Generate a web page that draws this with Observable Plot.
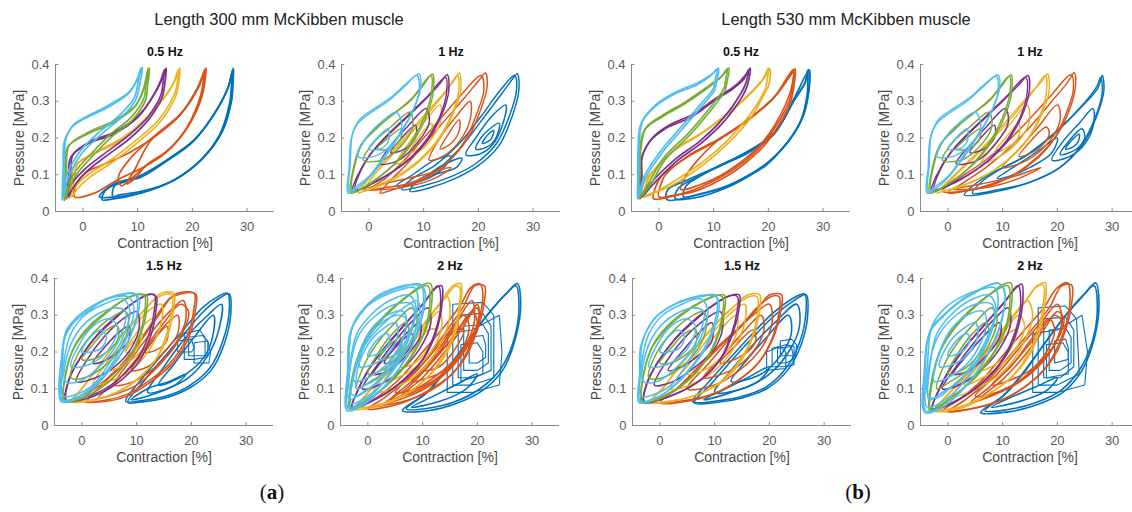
<!DOCTYPE html>
<html><head><meta charset="utf-8">
<script src="https://cdn.jsdelivr.net/npm/d3@7"></script>
<script src="https://cdn.jsdelivr.net/npm/@observablehq/plot@0.6"></script>
<style>
body{margin:0;background:#fff;overflow:hidden;}
#root{position:relative;width:1132px;height:512px;overflow:hidden;font-family:"Liberation Sans",Arial,sans-serif;}
.t{position:absolute;font-size:16.5px;color:#222;white-space:nowrap;transform:translateX(-50%);}
.p{position:absolute;width:269px;height:214px;}
.p svg{max-width:none !important;}
.lab{position:absolute;font-family:"Liberation Serif","DejaVu Serif",serif;font-size:21px;color:#111;transform:translateX(-50%);white-space:nowrap;}
</style></head><body><div id="root"></div>
<script>
// series: contraction offset levels (MATLAB default colour order)
const series = ["b","o","y","p","g","c"];
const colors = ["#0072BD","#D95319","#EDB120","#7E2F8E","#77AC30","#4DBEEE"];
const xTicks = [0,10,20,30];
const yTicks = [0,0.1,0.2,0.3,0.4];
const groupTitles = ["Length 300 mm McKibben muscle","Length 530 mm McKibben muscle"];
const freqTitles = ["0.5 Hz","1 Hz","1.5 Hz","2 Hz"];

// smooth loops: [series, [x(%), y(MPa), ...]]
const P300_05 = [
 ["b",[3.5,.032,4,.055,5.1,.068,10.6,.095,15.5,.14,20.3,.193,24,.265,26.5,.336,27.4,.386,27.3,.34,27.1,.3,25.2,.211,21.6,.14,16.7,.086,10.6,.05,5,.033]],
 ["b",[5.5,.04,5.8,.07,10.8,.1,15.8,.145,20.5,.198,24.2,.27,26.6,.34,27.3,.383,27.1,.335,26.8,.295,24.9,.207,21.3,.137,16.4,.083,10.5,.054,6.5,.045]],
 ["b",[3,.04,6,.078,10.4,.092,15.3,.137,20.1,.19,23.8,.262,26.4,.333,27.5,.39,27.4,.345,27.2,.305,25.4,.215,21.8,.143,16.9,.088,10.8,.052,6,.04]],
 ["o",[-1.5,.04,-1,.08,1,.11,3.3,.125,8.2,.158,13,.202,17.9,.265,21,.336,22,.37,22.4,.388,22,.34,21.6,.31,19.1,.229,15.5,.166,11.2,.122,6.3,.086,2.1,.05]],
 ["o",[7,.07,6.5,.095,9,.15,13.2,.207,18.1,.27,21.2,.34,22.2,.384,21.8,.335,21.3,.305,18.8,.224,15.2,.161,11,.118,8.5,.085]],
 ["o",[8,.075,9.5,.115,12.5,.195,17.7,.262,20.8,.333,22.5,.39,22.2,.345,21.8,.315,19.3,.233,15.8,.17,11.5,.125,9.5,.09]],
 ["y",[-2.5,.035,-2,.08,-1.6,.122,2.1,.157,6.9,.193,11.2,.247,14.9,.31,16.6,.35,17.4,.385,17.2,.345,16.7,.319,13.7,.247,9.4,.19,5.1,.14,.9,.1,-1.8,.06]],
 ["y",[-2,.04,-1.5,.09,-1,.13,2.5,.163,7.2,.2,11.5,.253,15.2,.318,17,.362,17.7,.39,17.4,.34,16.9,.312,13.9,.24,9.7,.184,5.4,.134,1.3,.094,-1.2,.058]],
 ["p",[-3,.035,-2.6,.1,-2.2,.148,.9,.184,5.7,.211,10,.256,13,.319,14.3,.36,14.9,.386,14.6,.345,14.3,.319,11.8,.256,8.2,.205,3.9,.157,.2,.113,-2.5,.065]],
 ["p",[-2.6,.04,-2.2,.105,-1.8,.155,1.3,.19,6,.218,10.3,.263,13.3,.325,14.6,.365,15.2,.39,14.9,.34,14.5,.312,12,.25,8.5,.198,4.2,.15,.5,.106,-2,.06]],
 ["g",[-3.4,.03,-3.2,.11,-2.8,.175,.9,.211,5.1,.238,9.4,.283,11,.33,11.9,.39,11.5,.345,11.2,.31,8.8,.256,5.1,.211,1.5,.157,-1.6,.104,-3,.055]],
 ["g",[-3.2,.035,-3,.115,-2.5,.18,1.2,.217,5.4,.245,9.7,.29,11.3,.34,12.2,.39,11.8,.34,11.5,.305,9.1,.25,5.4,.205,1.8,.151,-1.3,.098,-2.8,.05]],
 ["c",[-3.8,.03,-3.6,.12,-3.4,.19,-2,.23,-.4,.247,4.5,.283,8.2,.319,9.8,.355,10.6,.39,10,.345,9.4,.31,6.9,.265,3.3,.22,-.4,.166,-2.8,.104,-3.6,.06]],
 ["c",[-3.6,.035,-3.4,.125,-3.1,.197,-1.7,.236,0,.253,4.8,.29,8.5,.326,10,.362,10.9,.392,10.3,.34,9.7,.305,7.2,.258,3.6,.213,-.1,.16,-2.5,.098,-3.3,.058]]
];
const P300_1 = [
 ["b",[7.5,.055,9,.085,12.8,.117,17.1,.18,20.7,.25,24.4,.323,26.2,.36,27.1,.375,27.4,.33,26.2,.26,23.8,.18,20.1,.126,15.8,.09,11,.064]],
 ["b",[6,.06,8,.09,12,.125,16.5,.185,20.3,.255,24,.33,26.6,.37,27,.335,25.8,.265,23.3,.185,19.5,.13,15,.095,10,.07]],
 ["b",[17.7,.155,19.5,.2,22.5,.26,25,.29,24.5,.24,22.5,.18,20,.155]],
 ["b",[19.5,.17,21,.21,23.8,.24,23.2,.2,21.5,.175]],
 ["b",[20.7,.185,21.8,.21,22.8,.22,22.2,.195]],
 ["b",[11,.1,14,.13,17,.145,16,.12,13,.105]],
 ["b",[5,.07,8,.1,12,.14,15,.15,13,.11,9,.08]],
 ["o",[2,.05,4,.085,7,.13,10.5,.19,14,.25,17.5,.31,20,.355,21.3,.377,21.6,.34,20.5,.28,18.5,.21,15.5,.15,12,.105,8,.075,4.5,.06]],
 ["o",[0,.06,3,.09,6.5,.14,10,.2,13.5,.26,17,.32,20.5,.37,21,.33,19.8,.27,17.8,.2,14.8,.14,11,.1,7,.075,3,.065]],
 ["o",[11,.14,13,.2,16,.26,18.5,.3,18.5,.25,16.5,.19,13.5,.15]],
 ["o",[13,.17,14.5,.21,16.5,.25,16.5,.22,15,.185]],
 ["o",[-1,.06,4,.08,10,.1,15,.12,12,.09,6,.065]],
 ["y",[-2,.05,0,.09,3,.14,6.5,.2,10,.26,13,.31,15.5,.355,16.5,.377,16.8,.33,15.5,.27,13,.2,9.5,.14,6,.1,2,.07,-1,.055]],
 ["y",[-1,.055,1,.1,4,.15,7.5,.21,11,.27,14,.325,16.2,.37,16.4,.325,15,.26,12.3,.19,8.8,.135,5,.095,1,.068]],
 ["y",[5,.13,7.5,.19,10.5,.25,13,.29,13,.24,11,.19,8,.15]],
 ["y",[7.5,.16,9.5,.21,11.5,.24,11,.2,9.5,.175]],
 ["p",[-3,.055,-2,.1,0,.15,3,.2,6.5,.25,10,.3,12.8,.345,14.3,.372,14.6,.33,13.5,.27,11,.2,8,.15,4.5,.11,1,.08,-1.5,.06]],
 ["p",[-2.5,.06,-1.5,.11,.5,.16,3.5,.21,7,.26,10.5,.31,14,.365,14.2,.325,13,.26,10.5,.195,7.5,.145,4,.105,.5,.075]],
 ["p",[2,.13,4,.18,7,.23,10.5,.28,11,.24,9,.19,5.5,.14]],
 ["p",[4,.16,6,.2,8.5,.235,8.5,.2,6.5,.17]],
 ["g",[-3.3,.05,-2.8,.12,-1.5,.18,1,.22,4,.26,7.5,.3,10,.345,11.6,.375,11.8,.33,10.8,.27,8.5,.2,5.5,.14,2,.095,-1,.065]],
 ["g",[-3,.055,-2.5,.13,-1,.19,1.5,.23,4.5,.265,8,.31,11.3,.37,11.4,.32,10.2,.26,8,.195,5,.135,1.5,.09]],
 ["g",[-1,.14,1,.19,4,.23,7.5,.27,8,.23,6,.18,2.5,.14]],
 ["g",[1.5,.17,3.5,.2,6,.225,5.5,.19,3.5,.17]],
 ["c",[-3.8,.05,-3.6,.12,-3.2,.2,-2,.24,.5,.27,3.5,.3,6.5,.34,9.1,.375,9.5,.34,8.5,.29,6.5,.23,3.5,.16,.5,.1,-2,.065]],
 ["c",[-3.6,.055,-3.4,.13,-3,.21,-1.7,.25,1,.28,4,.31,7,.35,8.8,.37,9.2,.33,8.2,.28,6,.22,3,.155,0,.095,-2.3,.068]],
 ["c",[-2,.15,-.5,.2,2,.24,5,.27,6,.23,4,.18,1,.15]],
 ["c",[0,.17,1.5,.2,3.5,.225,3.5,.19,2,.17]]
];
const P300_15 = [
 ["b",[8.4,.063,11.4,.122,15,.186,18.7,.25,22.4,.313,25.4,.349,26.9,.358,27.2,.304,26,.222,23.6,.15,19.9,.104,15.7,.077,11.4,.065]],
 ["b",[8,.066,11,.128,14.6,.192,18.3,.256,22,.32,25,.352,26.6,.36,26.9,.31,25.7,.228,23.3,.155,19.6,.108,15.4,.08,11,.068]],
 ["b",[12,.09,15,.16,19,.24,23,.3,25.5,.33,25,.26,23,.19,19.5,.13,15.5,.1]],
 ["b",[14,.11,17,.17,20.5,.24,24,.3,24,.25,22.5,.19,19,.14]],
 ["b",[9,.07,12,.1,16,.12,19,.14,17,.11,13,.085]],
 ["o",[1,.065,5,.13,8.4,.177,10.8,.231,13.8,.295,16.3,.349,17.5,.36,20.5,.36,20.5,.322,19.2,.24,16,.168,12.3,.122,8.4,.086,4,.068]],
 ["o",[0,.068,4,.12,7.5,.17,10.3,.225,13.3,.29,16,.345,18,.358,20.8,.358,20.7,.31,19.4,.235,16.3,.165,12.5,.118,8.6,.082,4.5,.066]],
 ["o",[6,.11,9,.18,12.5,.25,16,.31,18.5,.34,19,.29,17,.22,13.5,.16,9.5,.12]],
 ["o",[9,.15,12,.21,15,.27,17.5,.3,17.5,.25,15,.2,12,.16]],
 ["o",[11.5,.2,13.5,.24,15.5,.27,15.5,.23,13.5,.205]],
 ["o",[3,.075,7,.13,11,.2,15,.28,18,.33,19.5,.31,18,.24,14.5,.17,10,.11,6,.085]],
 ["y",[-2,.065,0,.1,3,.16,6.5,.23,10,.29,13,.34,14.5,.36,16.8,.36,16.8,.32,16,.26,14,.19,10.5,.13,6.5,.09,2.5,.07]],
 ["y",[-1.5,.068,.5,.11,3.5,.17,7,.24,10.5,.3,13.5,.345,15.5,.358,16.5,.355,16.4,.31,15.5,.25,13.5,.18,10,.125,6,.088,2,.07]],
 ["y",[2,.11,5,.18,8.5,.25,12,.31,14.5,.33,14.5,.28,12.5,.21,9,.15,5,.12]],
 ["y",[5,.15,8,.21,11,.27,13,.29,12.5,.24,10,.19,7,.16]],
 ["y",[8,.2,9.5,.23,11,.25,10.5,.22,9,.2]],
 ["p",[-3,.065,-2.5,.12,-.5,.18,2.5,.24,6,.29,9.5,.335,12,.355,13.3,.355,13.3,.32,12.5,.26,10.5,.19,7,.13,3,.09,-1,.07]],
 ["p",[-2.8,.068,-2.2,.13,0,.19,3,.25,6.5,.3,10,.34,12.5,.358,13.6,.35,13.5,.31,12.7,.25,10.7,.18,7.3,.125,3.3,.087,-.7,.068]],
 ["p",[-1,.12,1,.18,4,.24,7.5,.29,10,.31,10.5,.27,9,.21,6,.16,2.5,.13]],
 ["p",[2,.17,4,.21,6.5,.25,8.5,.27,8.5,.23,6.5,.2,4,.175]],
 ["g",[-3.3,.065,-3,.14,-1.5,.21,1,.26,4,.3,7.5,.34,10,.355,11.8,.355,11.8,.31,10.8,.25,8.5,.18,5,.12,1,.08,-2,.065]],
 ["g",[-3.1,.068,-2.8,.15,-1.2,.22,1.3,.27,4.5,.31,8,.345,10.5,.358,11.5,.35,11.4,.3,10.4,.24,8,.17,4.5,.115,.5,.078]],
 ["g",[-2,.13,-.5,.2,2,.25,5,.29,8,.31,8.5,.27,7,.21,4,.16,.5,.13]],
 ["g",[0,.18,2,.22,4.5,.26,6.5,.27,6.5,.23,4.5,.2,2,.18]],
 ["c",[-3.8,.065,-3.7,.15,-3.3,.23,-1.5,.28,1,.31,4,.34,7,.355,9.5,.36,10.5,.34,10,.29,8.5,.23,5.5,.16,2,.1,-1.5,.07]],
 ["c",[-3.6,.068,-3.5,.16,-3.1,.24,-1.2,.29,1.5,.32,4.5,.345,7.5,.358,9.8,.355,10.2,.32,9.5,.27,7.8,.21,5,.15,1.5,.095,-2,.07]],
 ["c",[-3,.12,-2.5,.2,-.5,.26,2.5,.3,6,.32,8,.31,7.5,.26,5.5,.2,2.5,.15,-.5,.12]],
 ["c",[-2,.16,-.5,.22,2,.27,5,.29,6.5,.27,5.5,.22,3,.18,0,.16]],
 ["c",[0,.2,1.5,.24,3.5,.26,4.5,.24,3.5,.21,1.5,.2]],
 ["c",[-3.4,.08,-3.2,.18,-2,.25,.5,.3,4,.33,7.5,.345,8.8,.31,7.5,.24,5,.17,2,.11,-1,.085]],
 ["c",[-3.7,.07,-3.6,.2,-2.8,.26,-.5,.3,2.5,.33,6,.35,8.5,.35,9.5,.32,8.5,.25,6,.18,3,.12,-.5,.08]]
];
// step-shaped (square) loops
const P300_15_steps = [
 ["b",[18.7,.18,18.7,.25,21.5,.26,22.5,.24,22.5,.185,20.5,.18]],
 ["b",[19.5,.19,19.5,.24,22,.245,23,.23,23,.19]],
 ["b",[20.5,.17,20.5,.225,23,.23,23.5,.2,23.2,.17]],
 ["b",[17.5,.2,17.5,.23,20,.235,20.5,.21,20,.2]]
];
const P300_2 = [
 ["b",[6.3,.041,10.5,.086,14.2,.15,17.9,.222,21.5,.295,25.2,.358,27.3,.386,27.9,.331,27,.24,24.6,.15,20.9,.095,16,.059,11.2,.041]],
 ["b",[7,.045,11,.092,14.7,.157,18.3,.23,21.9,.302,25.5,.362,27,.38,27.6,.325,26.7,.235,24.3,.155,20.5,.1,15.6,.063,11,.047]],
 ["b",[8,.05,12,.08,16,.11,20,.14,18,.1,13,.065]],
 ["o",[-1,.05,2,.08,6,.13,10,.2,14,.27,17,.33,18.8,.375,20.5,.385,21,.36,20.5,.3,19,.23,16.5,.16,13,.11,8.5,.075,3,.055]],
 ["o",[0,.045,3,.075,7,.125,11,.19,14.5,.26,17.5,.325,19.5,.38,21.3,.38,21.2,.33,20,.26,18,.19,15,.135,11,.095,6,.06]],
 ["o",[5,.09,9,.15,13,.22,16.5,.29,19,.34,19.5,.29,18,.22,15,.16,10.5,.11]],
 ["o",[8,.12,11,.17,14.5,.24,17.5,.3,18.5,.27,17,.2,14,.15]],
 ["o",[10,.15,13,.2,16,.26,17.5,.26,16,.21,13,.16]],
 ["o",[4,.07,8,.12,12,.18,16,.25,19,.31,20,.28,18,.22,14.5,.16,10,.11,6,.08]],
 ["o",[3,.06,7,.1,11,.16,15,.23,18.5,.3,20,.33,20.3,.3,19,.24,16,.17,12,.115,7.5,.08]],
 ["o",[6,.08,10,.13,14,.2,17.5,.27,19.8,.32,20.5,.3,19.5,.25,17,.19,13,.13,9,.095]],
 ["y",[-2.5,.045,-.5,.08,3,.14,7,.21,10.5,.28,13.5,.34,15.5,.38,17,.385,17,.34,16.3,.27,14.5,.2,11.5,.14,7.5,.09,2.5,.055]],
 ["y",[-2,.05,0,.09,3.5,.15,7.5,.22,11,.29,14,.345,16,.38,16.8,.375,16.7,.33,15.8,.26,13.8,.19,10.8,.13,6.8,.085,1.5,.055]],
 ["y",[1,.09,4.5,.16,8,.23,11.5,.3,14.5,.35,15,.3,13.5,.23,10.5,.16,6,.11]],
 ["y",[3,.12,6.5,.19,10,.26,13,.31,13.5,.27,11.5,.2,8,.15]],
 ["y",[6,.16,8.5,.21,11,.26,12.5,.26,11,.21,8.5,.17]],
 ["p",[-3,.045,-2,.09,0,.15,3,.21,6.5,.27,10,.33,12.5,.375,13.5,.38,13.6,.34,12.8,.27,10.5,.19,7,.13,3,.085,-1,.055]],
 ["p",[-2.8,.05,-1.7,.1,.5,.16,3.5,.22,7,.28,10.3,.335,12.8,.38,13.3,.33,12.4,.26,10,.18,6.5,.125,2.5,.08]],
 ["p",[-1,.1,1.5,.16,5,.23,8.5,.29,11,.32,11.5,.28,9.5,.21,6,.15,2,.11]],
 ["p",[1,.14,4,.2,7,.25,9.5,.28,9.5,.24,7,.19,4,.15]],
 ["p",[3,.17,5.5,.22,8,.25,8,.22,5.5,.18]],
 ["g",[-3.3,.045,-3,.12,-1.5,.2,1,.26,4,.31,7.5,.355,10,.383,11.5,.385,11.7,.34,10.8,.27,8.5,.2,5,.13,1,.08,-2,.05]],
 ["g",[-3.1,.05,-2.7,.13,-1.2,.21,1.3,.27,4.5,.32,8,.36,11,.38,11.3,.33,10.4,.26,8,.19,4.5,.125,.5,.075]],
 ["g",[-2,.1,-.5,.17,2,.23,5,.28,8,.32,9,.29,7.5,.22,4.5,.16,.5,.12]],
 ["g",[0,.14,2,.2,4.5,.25,7,.28,7.5,.24,5.5,.19,2.5,.15]],
 ["g",[2,.18,4,.22,6,.24,6,.21,4,.185]],
 ["c",[-3.8,.04,-3.7,.14,-3.3,.25,-1.5,.3,1,.34,4,.365,7,.38,9.5,.385,10.5,.36,10,.3,8.5,.23,5.5,.15,2,.09,-1.5,.05]],
 ["c",[-3.6,.045,-3.5,.15,-3,.26,-1.2,.31,1.5,.35,4.5,.372,7.5,.383,9.8,.378,10.2,.34,9.5,.28,7.8,.21,5,.14,1.5,.085,-2,.05]],
 ["c",[-3.2,.09,-3,.18,-1.5,.25,1.5,.3,5,.33,8,.33,8.5,.29,7,.22,4.5,.16,1,.11,-2,.08]],
 ["c",[-2.5,.12,-1.5,.2,.5,.26,3.5,.3,6.5,.31,7,.27,5.5,.21,3,.16,0,.13]],
 ["c",[-1.5,.16,0,.22,2.5,.26,5,.28,5.5,.25,4,.2,1.5,.17]],
 ["c",[0,.19,1.5,.23,3.5,.25,4,.23,2.5,.2]],
 ["c",[-3,.06,-2.5,.14,-.5,.22,3,.28,6.5,.32,9,.34,9.5,.31,8.5,.25,6,.18,3,.12,0,.08]],
 ["c",[-3.7,.05,-3.6,.16,-2.8,.27,-.5,.32,2.5,.35,6,.37,8.5,.375,9.2,.34,8.2,.27,6,.19,3,.12,-.5,.07]],
 ["c",[-3.4,.07,-3.2,.17,-2,.25,.5,.3,4,.34,7.5,.355,8.8,.32,7.5,.25,5,.18,2,.12,-1,.09]],
 ["c",[-2,.1,-1.5,.18,0,.24,2.5,.28,5.5,.3,7,.29,6.5,.24,4.5,.18,2,.13,-.5,.11]]
];
const P300_2_steps = [
 ["b",[15.5,.11,15.5,.33,21,.335,23,.3,23,.13,19,.11]],
 ["b",[16.5,.13,16.5,.3,21,.305,22.5,.27,22.5,.15,19.5,.13]],
 ["b",[17.5,.15,17.5,.27,21,.275,22,.25,22,.17,20,.15]],
 ["b",[18.5,.17,18.5,.24,21,.245,21.5,.22,21.5,.185,20,.17]],
 ["b",[17,.12,17,.22,20,.225,21,.2,21,.14]],
 ["b",[14.5,.09,14.5,.25,19,.26,24,.3,24.5,.2,24,.11,19,.09]]
];
const P530_05 = [
 ["b",[1.5,.032,1.6,.059,5.2,.086,10.7,.122,16.1,.158,21,.21,24.6,.3,26.7,.35,27.3,.386,27.5,.35,27.3,.32,26.3,.26,24.6,.21,22.5,.17,19.8,.13,16,.095,12.5,.068,7,.045]],
 ["b",[3,.035,3.5,.062,6.5,.09,11,.125,16.3,.163,21.3,.218,24.8,.305,26.8,.355,27.1,.382,27.2,.34,27,.31,26,.25,24.3,.205,22.2,.165,19.5,.125,15.7,.09,12.2,.064,7.5,.04]],
 ["b",[4.5,.04,5,.07,8,.1,12,.13,16.5,.166,21.2,.215,24.6,.305,27.5,.385,27.4,.33,26.5,.265,24.8,.215,20,.135,12.8,.072,8,.05]],
 ["o",[-1,.035,-.5,.07,.4,.095,5.2,.148,10.7,.193,16.1,.247,21,.31,23.5,.36,24.6,.386,24.4,.34,23.8,.3,21.5,.235,18.5,.175,15.5,.135,12.5,.104,6.4,.059,2,.04]],
 ["o",[0,.04,.5,.08,1.2,.1,5.5,.153,11,.198,16.4,.252,21.3,.315,23.8,.365,24.9,.388,24.6,.335,24,.295,21.8,.232,18.8,.172,15.8,.132,12.8,.1,6.8,.056,3,.045]],
 ["o",[4,.06,4.5,.085,6,.12,10.5,.19,16,.245,21,.31,24.5,.385,24.2,.335,21.3,.238,18.3,.178,12.3,.107,7,.07]],
 ["y",[-3,.04,-2.8,.075,-.9,.113,2.8,.166,7.6,.21,12.5,.265,16.7,.32,19,.36,20,.39,19.8,.36,19.5,.336,16.7,.265,12.5,.193,7.6,.13,2.2,.077,-1.6,.045]],
 ["y",[-2.5,.045,-2.2,.08,-.5,.118,3.2,.172,8,.216,12.9,.272,17,.327,19.3,.365,20.3,.388,20,.34,19.6,.33,17,.26,12.8,.188,7.9,.125,2.6,.073,-1.2,.05]],
 ["p",[-3.5,.035,-3.4,.09,-3.3,.14,-1.5,.193,1.6,.229,5.8,.256,10,.3,13.7,.336,15.5,.36,16.4,.386,15.9,.35,14.9,.319,11.9,.256,7.6,.193,2.8,.14,-1.5,.077,-3,.045]],
 ["p",[-3.2,.04,-3.1,.095,-3,.15,-1.2,.2,2,.236,6.1,.263,10.3,.307,14,.343,16,.375,16.7,.39,16.2,.345,15.2,.312,12.2,.25,7.9,.188,3.1,.135,-1.2,.072]],
 ["g",[-3.7,.035,-3.6,.1,-3.5,.16,-2.7,.22,.4,.256,4.6,.292,8.9,.336,11.3,.365,12.5,.388,12.2,.36,11.9,.336,8.9,.274,5.2,.21,1,.148,-1.9,.077,-3.2,.045]],
 ["g",[-3.5,.04,-3.4,.105,-3.3,.167,-2.4,.227,.7,.262,4.9,.299,9.2,.343,11.6,.37,12.8,.39,12.4,.35,12.1,.33,9.1,.268,5.4,.204,1.2,.142,-1.6,.072]],
 ["c",[-3.9,.035,-3.85,.1,-3.8,.17,-3.3,.238,-.9,.283,2.8,.319,7,.345,9.5,.37,10.7,.388,10.3,.36,10,.336,7.6,.292,4,.229,.4,.166,-2.7,.095,-3.6,.05]],
 ["c",[-3.7,.04,-3.65,.11,-3.6,.18,-3,.245,-.6,.29,3.1,.325,7.3,.352,9.8,.375,10.9,.39,10.5,.35,10.2,.33,7.8,.286,4.2,.223,.6,.16,-2.5,.09]]
];
const P530_1 = [
 ["b",[3,.045,5,.075,7.9,.104,13.9,.148,19.4,.211,24.3,.283,27.4,.336,28.2,.37,28.5,.33,27.2,.26,24.5,.18,20.5,.12,15,.08,9,.055]],
 ["b",[4.5,.05,6.5,.085,9,.11,14.5,.155,19.8,.218,24.6,.29,27.2,.34,27.9,.365,28.2,.325,26.9,.255,24.1,.175,20,.115,14.5,.077,9.5,.06]],
 ["b",[19,.14,21,.19,24,.24,26.5,.28,26.5,.23,24.5,.175,21.5,.145]],
 ["b",[20.5,.155,22,.19,24.5,.225,25,.2,23.5,.17]],
 ["b",[21.5,.17,22.7,.195,24,.21,23.8,.19,22.8,.175]],
 ["b",[9,.09,13,.13,17,.17,20,.2,19,.16,15,.12,11,.095]],
 ["o",[0,.05,3,.08,7,.12,11,.17,15,.23,19,.3,21.8,.35,23.1,.378,23.3,.34,22.3,.28,20,.21,16.5,.15,12,.1,7,.07,3,.055]],
 ["o",[-1,.055,2,.09,6,.13,10.5,.185,14.5,.245,18.5,.31,22.5,.372,22.9,.33,21.7,.27,19.5,.2,16,.14,11.5,.095,6.5,.065]],
 ["o",[10,.12,13,.17,16.5,.23,20,.29,20.5,.25,18.5,.19,14.5,.14]],
 ["o",[13,.15,15,.19,18,.23,18.5,.21,16.5,.17]],
 ["o",[1,.06,6,.075,12,.095,17,.12,13,.09,7,.065]],
 ["y",[-2,.05,.5,.09,4,.14,8,.2,11.5,.26,15,.32,17.2,.355,18.2,.375,18.5,.33,17.3,.27,14.8,.2,11,.14,7,.1,2.5,.07,-1,.055]],
 ["y",[-1,.055,1.5,.1,5,.15,9,.21,12.5,.27,15.5,.325,17.8,.37,18,.325,16.8,.26,14.2,.19,10.5,.135,6.5,.095,2,.066]],
 ["y",[6,.13,9,.19,12,.25,14.5,.29,14.8,.24,12.5,.185,9.5,.15]],
 ["y",[8.5,.16,10.5,.2,13,.24,12.8,.2,11,.175]],
 ["p",[-3,.055,-2,.1,0,.15,3,.2,6.5,.25,10,.3,13,.345,14.6,.37,14.9,.33,13.8,.27,11.3,.2,8.3,.15,4.8,.11,1.2,.08,-1.5,.06]],
 ["p",[-2.5,.06,-1.5,.11,.5,.16,3.5,.21,7,.26,10.5,.31,14.2,.365,14.5,.325,13.3,.26,10.8,.195,7.8,.145,4.3,.105,.8,.075]],
 ["p",[1.5,.13,4,.18,7,.23,10.5,.28,11,.24,9,.19,5.5,.14]],
 ["p",[4,.16,6,.2,8.5,.235,8.5,.2,6.5,.17]],
 ["g",[-3.3,.05,-2.8,.12,-1.5,.18,1,.22,4,.26,7.5,.3,10,.345,11.5,.372,11.7,.33,10.7,.27,8.4,.2,5.4,.14,2,.095,-1,.065]],
 ["g",[-3,.055,-2.5,.13,-1,.19,1.5,.23,4.5,.265,8,.31,11.2,.368,11.3,.32,10.1,.26,7.9,.195,4.9,.135,1.5,.09]],
 ["g",[-1,.14,1,.19,4,.23,7.5,.27,8,.23,6,.18,2.5,.14]],
 ["g",[1.5,.17,3.5,.2,6,.225,5.5,.19,3.5,.17]],
 ["c",[-3.8,.05,-3.6,.12,-3.2,.2,-2,.24,.5,.27,3.5,.3,6.5,.34,9.1,.372,9.5,.34,8.5,.29,6.5,.23,3.5,.16,.5,.1,-2,.065]],
 ["c",[-3.6,.055,-3.4,.13,-3,.21,-1.7,.25,1,.28,4,.31,7,.35,8.8,.368,9.2,.33,8.2,.28,6,.22,3,.155,0,.095,-2.3,.068]],
 ["c",[-2,.15,-.5,.2,2,.24,5,.27,6,.23,4,.18,1,.15]],
 ["c",[0,.17,1.5,.2,3.5,.225,3.5,.19,2,.17]]
];
const P530_15 = [
 ["b",[6.3,.062,9.5,.115,13,.175,17,.24,21,.3,24.5,.34,26.7,.356,27,.3,25.8,.22,23.3,.15,19.5,.1,15,.075,10.5,.063]],
 ["b",[6,.065,9,.12,12.6,.18,16.6,.245,20.6,.305,24.2,.345,26.4,.358,26.7,.31,25.5,.225,23,.155,19.2,.103,14.7,.078,10,.066]],
 ["b",[10,.09,13,.15,17,.22,21,.28,25,.33,25.5,.27,23.5,.2,20,.14,15,.1]],
 ["b",[13,.12,16,.18,19.5,.24,23.5,.3,24,.25,22,.19,18.5,.14]],
 ["b",[8,.07,12,.1,16,.13,20,.16,18,.12,13,.09]],
 ["o",[0,.062,4,.11,8,.17,12,.23,15.5,.28,18.5,.33,20,.355,22.2,.356,22.2,.32,21,.25,18.5,.18,15,.13,10.5,.09,5,.066]],
 ["o",[-1,.065,3,.1,7,.16,11,.22,15,.275,18,.325,20.5,.352,21.8,.35,21.8,.31,20.6,.24,18,.17,14.5,.125,10,.088,4.5,.068]],
 ["o",[5,.1,9,.17,13,.24,17,.3,20,.33,20.5,.28,18.5,.21,14.5,.15,10,.11]],
 ["o",[8,.13,11.5,.19,15,.25,18.5,.3,19,.26,17,.2,13,.15]],
 ["o",[11,.17,14,.22,17,.26,17.5,.23,15,.19]],
 ["y",[-2,.062,.5,.1,3.5,.16,7,.22,10.5,.28,14,.33,16,.355,18.2,.356,18.2,.31,17.2,.25,15,.18,11.5,.12,7,.085,2,.065]],
 ["y",[-1.5,.065,1,.11,4,.17,7.5,.23,11,.29,14.5,.335,16.5,.352,17.8,.35,17.8,.3,16.8,.24,14.5,.175,11,.118,6.5,.082,1.5,.066]],
 ["y",[2,.1,5.5,.17,9,.24,12.5,.3,15.5,.33,15.5,.28,13.5,.21,10,.15,5.5,.11]],
 ["y",[5,.14,8,.2,11,.26,14,.3,14,.25,11.5,.19,8,.15]],
 ["p",[-3,.062,-2.5,.11,-.5,.17,2.5,.23,6,.28,9.5,.325,12.5,.352,14.5,.355,14.5,.32,13.5,.26,11.5,.19,8,.13,3.5,.09,-1,.066]],
 ["p",[-2.8,.065,-2.2,.12,0,.18,3,.24,6.5,.29,10,.33,13,.354,14.2,.35,14.1,.31,13.1,.25,11,.18,7.5,.125,3,.087]],
 ["p",[-1,.11,1,.17,4,.23,7.5,.28,11,.31,11.5,.27,10,.21,6.5,.16,2.5,.12]],
 ["p",[1.5,.15,4,.2,7,.25,9.5,.28,9.5,.23,7,.19,4,.16]],
 ["g",[-3.3,.062,-3,.14,-1.5,.21,1,.26,4,.3,7.5,.335,10,.352,11.8,.355,11.8,.31,10.8,.25,8.5,.18,5,.12,1,.08,-2,.064]],
 ["g",[-3.1,.065,-2.8,.15,-1.2,.22,1.3,.27,4.5,.31,8,.34,10.5,.355,11.5,.348,11.4,.3,10.4,.24,8,.17,4.5,.115,.5,.076]],
 ["g",[-2,.13,-.5,.2,2,.25,5,.29,8,.31,8.5,.27,7,.21,4,.16,.5,.13]],
 ["g",[0,.17,2,.21,4.5,.25,6.5,.26,6.5,.22,4.5,.19,2,.17]],
 ["c",[-3.8,.062,-3.7,.14,-3.5,.216,-1.5,.28,.2,.307,2.5,.328,5.1,.343,8,.352,10,.356,10.8,.33,10.3,.28,8.7,.22,5.7,.155,2,.1,-1.5,.068]],
 ["c",[-3.6,.065,-3.5,.15,-3.2,.226,-1.2,.288,.6,.312,3,.333,5.5,.347,8.3,.355,10.3,.35,10.5,.32,9.8,.27,8.1,.21,5.2,.15,1.5,.095,-2,.068]],
 ["c",[-3,.12,-2.5,.2,-.5,.26,2.5,.3,6,.32,8,.31,7.5,.26,5.5,.2,2.5,.15,-.5,.12]],
 ["c",[-2,.16,-.5,.22,2,.27,5,.29,6.5,.27,5.5,.22,3,.18,0,.16]],
 ["c",[0,.2,1.5,.24,3.5,.26,4.5,.24,3.5,.21,1.5,.2]],
 ["c",[-3.4,.08,-3.2,.18,-2,.25,.5,.3,4,.33,7.5,.345,8.8,.31,7.5,.24,5,.17,2,.11,-1,.085]]
];
const P530_15_steps = [
 ["b",[20.5,.16,20.5,.21,23,.22,24.5,.215,24.5,.165,22.5,.16]],
 ["b",[19.5,.15,19.5,.2,22,.215,23,.2,23,.155]],
 ["b",[21.5,.17,21.5,.21,24,.215,24.5,.18,23,.17]],
 ["b",[22,.19,22,.23,24,.235,25,.22,24.8,.19]]
];
const P530_2 = [
 ["b",[6,.035,10,.08,13.8,.145,17.5,.22,21,.29,24.5,.35,27,.388,27.6,.33,26.8,.24,24.5,.15,21,.09,16,.055,11,.037]],
 ["b",[6.8,.04,10.6,.087,14.3,.152,17.9,.228,21.4,.298,24.8,.356,26.7,.38,27.3,.325,26.5,.235,24.2,.155,20.6,.095,15.6,.06,10.8,.043]],
 ["b",[8,.05,12,.08,16,.105,20,.13,18,.095,13,.065]],
 ["o",[-1,.04,2,.07,6,.12,10,.19,14,.26,17.5,.32,20,.375,21.9,.388,22.3,.36,22,.3,20.5,.23,18,.16,14.5,.11,10,.07,4,.045]],
 ["o",[0,.038,3,.068,7,.118,11,.185,15,.255,18.5,.32,20.8,.38,22.6,.382,22.6,.33,21.5,.26,19.5,.19,16.5,.135,12.5,.09,7,.055]],
 ["o",[5,.08,9,.14,13,.21,17,.28,20,.33,20.8,.29,19.5,.22,16.5,.16,11.5,.105]],
 ["o",[8,.11,11.5,.16,15,.23,18.5,.29,19.5,.26,18,.2,15,.15]],
 ["o",[4,.06,8,.11,12,.17,16,.24,19.5,.3,21,.28,19.5,.22,16,.16,11.5,.105,7,.075]],
 ["o",[6,.075,10,.125,14,.19,17.5,.26,20,.31,21.2,.29,20.2,.24,17.5,.18,13.5,.125,9,.09]],
 ["y",[-2.5,.04,-.5,.075,3,.13,7,.2,10.5,.27,13.8,.33,16,.375,17.8,.388,17.8,.34,17,.27,15.2,.2,12.2,.14,8,.09,3,.05]],
 ["y",[-2,.045,0,.085,3.5,.14,7.5,.21,11,.28,14.3,.34,16.5,.382,17.5,.38,17.4,.33,16.5,.26,14.5,.19,11.5,.13,7.3,.085,2,.05]],
 ["y",[1,.08,4.5,.15,8,.22,11.5,.29,14.5,.34,15.5,.3,14,.23,11,.16,6.5,.11]],
 ["y",[3,.11,6.5,.18,10,.25,13,.3,14,.27,12,.2,8.5,.15]],
 ["y",[6,.15,8.5,.2,11,.25,12.5,.26,11.5,.21,8.5,.165]],
 ["p",[-3,.04,-2,.085,0,.145,3,.21,6.5,.27,10,.33,12.5,.375,13.5,.385,13.7,.34,12.9,.27,10.6,.19,7,.125,3,.08,-1,.05]],
 ["p",[-2.8,.045,-1.7,.095,.5,.155,3.5,.22,7,.28,10.3,.335,12.8,.38,13.3,.33,12.4,.26,10,.18,6.5,.12,2.5,.075]],
 ["p",[-1,.1,1.5,.16,5,.23,8.5,.29,11,.32,11.5,.28,9.5,.21,6,.15,2,.11]],
 ["p",[1,.14,4,.2,7,.25,9.5,.28,9.5,.24,7,.19,4,.15]],
 ["g",[-3.3,.04,-3,.12,-1.5,.2,1,.26,4,.31,7.5,.355,10,.383,11.5,.388,11.7,.34,10.8,.27,8.5,.2,5,.13,1,.08,-2,.045]],
 ["g",[-3.1,.045,-2.7,.13,-1.2,.21,1.3,.27,4.5,.32,8,.36,11,.38,11.3,.33,10.4,.26,8,.19,4.5,.125,.5,.075]],
 ["g",[-2,.1,-.5,.17,2,.23,5,.28,8,.32,9,.29,7.5,.22,4.5,.16,.5,.12]],
 ["g",[0,.14,2,.2,4.5,.25,7,.28,7.5,.24,5.5,.19,2.5,.15]],
 ["c",[-4.2,.035,-4.3,.15,-3.8,.23,-3.1,.26,-1,.295,.5,.316,2.5,.34,4.8,.36,7,.378,9.1,.388,10.3,.37,10.2,.31,8.8,.24,6,.16,2.5,.095,-1,.05]],
 ["c",[-4,.04,-4.1,.16,-3.6,.24,-2.8,.27,-.7,.302,.8,.322,2.8,.345,5.1,.365,7.3,.381,9.4,.386,10.5,.35,10,.3,8.5,.23,5.7,.155,2.2,.09,-1.3,.048]],
 ["c",[-3.5,.08,-3.2,.18,-1.5,.25,1.5,.3,5,.33,8,.33,8.5,.29,7,.22,4.5,.16,1,.11,-2,.075]],
 ["c",[-2.5,.12,-1.5,.2,.5,.26,3.5,.3,6.5,.31,7,.27,5.5,.21,3,.16,0,.13]],
 ["c",[-1.5,.16,0,.22,2.5,.26,5,.28,5.5,.25,4,.2,1.5,.17]],
 ["c",[0,.19,1.5,.23,3.5,.25,4,.23,2.5,.2]],
 ["c",[-3.8,.05,-3.7,.17,-2.9,.27,-.5,.32,2.5,.35,6,.37,8.5,.375,9.2,.34,8.2,.27,6,.19,3,.12,-.5,.07]],
 ["c",[-3.4,.07,-3.2,.17,-2,.25,.5,.3,4,.34,7.5,.355,8.8,.32,7.5,.25,5,.18,2,.12,-1,.09]]
];
const P530_2_steps = [
 ["b",[16.5,.11,16.5,.32,21.5,.325,23.5,.29,24,.14,20,.11]],
 ["b",[17.5,.13,17.5,.29,21.5,.295,23,.26,23,.16,20.5,.13]],
 ["b",[18.5,.15,18.5,.26,21.5,.265,22.5,.24,22.5,.17,20.5,.15]],
 ["b",[19.5,.17,19.5,.23,21.5,.235,22,.21,22,.18]],
 ["b",[18,.13,18,.22,21,.225,22,.2,22,.14]],
 ["b",[15.5,.09,15.5,.25,20,.26,24.5,.3,25.5,.2,25,.11,20,.09]]
];

const root = document.getElementById("root");
const AX = "#8a8a8a";
function toRows(loops) {
  const rows = [];
  loops.forEach(([s, pts], i) => {
    for (let k = 0; k < pts.length; k += 2) rows.push({s, id: i, x: pts[k], y: pts[k + 1]});
  });
  return rows;
}
function panel(loops, steps, title, left, top, sw) {
  const svg = Plot.plot({
    width: 269, height: 214,
    marginLeft: 45, marginRight: 5, marginTop: 25, marginBottom: 42,
    style: {fontFamily: "'Liberation Sans', Arial, sans-serif", fontSize: "13px", color: "#5a5a5a", background: "transparent", overflow: "visible"},
    x: {domain: [-5, 35]},
    y: {domain: [0, 0.4]},
    color: {domain: series, range: colors},
    marks: [
      Plot.line(toRows(steps), {x: "x", y: "y", z: "id", stroke: "s", curve: "linear-closed", strokeWidth: sw * 0.7, clip: true}),
      Plot.line(toRows(loops), {x: "x", y: "y", z: "id", stroke: "s", curve: "catmull-rom-closed", strokeWidth: sw, clip: true}),
      Plot.ruleX([-5], {stroke: AX}),
      Plot.ruleY([0], {stroke: AX}),
      Plot.ruleX(xTicks, {y1: 0, y2: 0.008, stroke: AX}),
      Plot.ruleY(yTicks, {x1: -5, x2: -4.4, stroke: AX}),
      Plot.axisX({ticks: xTicks, tickSize: 0, tickPadding: 10, label: null, fontSize: 13}),
      Plot.axisY({ticks: yTicks, tickSize: 0, tickPadding: 6, label: null, fontSize: 13, tickFormat: d => d === 0 ? "0" : d.toFixed(1)}),
      Plot.text([title], {frameAnchor: "top", dy: -17, fontWeight: "bold", fontSize: 12.5, fill: "#111"}),
      Plot.text(["Contraction [%]"], {frameAnchor: "bottom", dy: 36, fontSize: 14, fill: "#4a4a4a"}),
      Plot.text(["Pressure [MPa]"], {frameAnchor: "left", dx: -36, rotate: -90, textAnchor: "middle", fontSize: 14, fill: "#4a4a4a"})
    ]
  });
  const d = document.createElement("div");
  d.className = "p";
  d.style.left = left + "px";
  d.style.top = top + "px";
  d.appendChild(svg);
  root.appendChild(d);
}
function label(cls, html, x, y) {
  const d = document.createElement("div");
  d.className = cls; d.innerHTML = html;
  d.style.left = x + "px"; d.style.top = y + "px";
  root.appendChild(d);
}
label("t", groupTitles[0], 279, 10);
label("t", groupTitles[1], 846, 10);
panel(P300_05, [], freqTitles[0], 10, 39, 1.7);
panel(P300_1, [], freqTitles[1], 296, 39, 1.45);
panel(P300_15, P300_15_steps, freqTitles[2], 9, 253, 1.55);
panel(P300_2, P300_2_steps, freqTitles[3], 295, 253, 1.6);
panel(P530_05, [], freqTitles[0], 586, 39, 1.7);
panel(P530_1, [], freqTitles[1], 875, 39, 1.45);
panel(P530_15, P530_15_steps, freqTitles[2], 587, 253, 1.55);
panel(P530_2, P530_2_steps, freqTitles[3], 875, 253, 1.6);
label("lab", "(<b>a</b>)", 272, 480);
label("lab", "(<b>b</b>)", 858, 480);
</script>
</body></html>
